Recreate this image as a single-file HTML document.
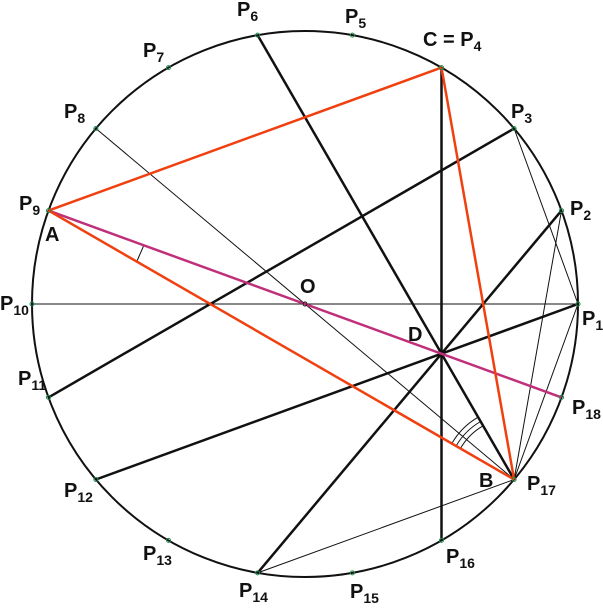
<!DOCTYPE html>
<html><head><meta charset="utf-8"><style>
html,body{margin:0;padding:0;background:#fff;}
svg{display:block;}
text{font-family:"Liberation Sans",Arial,sans-serif;fill:#111;font-weight:bold;}
</style></head><body>
<svg width="603" height="610" viewBox="0 0 603 610" xmlns="http://www.w3.org/2000/svg">
<circle cx="305" cy="304" r="273" fill="none" stroke="#111" stroke-width="2"/>
<g stroke="#111" stroke-width="1" fill="none">
<line x1="32" y1="304" x2="578" y2="304"/>
<line x1="95.9" y1="128.5" x2="514.1" y2="479.5"/>
<line x1="514.1" y1="128.5" x2="578" y2="304"/>
<line x1="561.5" y1="210.6" x2="514.1" y2="479.5"/>
<line x1="578" y1="304" x2="514.1" y2="479.5"/>
<line x1="257.6" y1="572.9" x2="514.1" y2="479.5"/>
<path d="M460.4,448.5 A62,62 0 0 1 483.1,425.8"/>
<path d="M456.1,446 A67,67 0 0 1 480.6,421.5"/>
<path d="M451.8,443.5 A72,72 0 0 1 478.1,417.2"/>
<line x1="137" y1="261" x2="144" y2="245"/>
</g>
<g stroke="#111" stroke-width="2.5">
<line x1="441.5" y1="67.6" x2="441.5" y2="540.4"/>
<line x1="257.6" y1="35.1" x2="514.1" y2="479.5"/>
<line x1="561.5" y1="210.6" x2="257.6" y2="572.9"/>
<line x1="578" y1="304" x2="95.9" y2="479.5"/>
<line x1="48.5" y1="397.4" x2="514.1" y2="128.5"/>
</g>
<line x1="48.5" y1="210.6" x2="561.5" y2="397.4" stroke="#c0307a" stroke-width="2.5"/>
<g stroke="#f04010" stroke-width="2.5">
<line x1="48.5" y1="210.6" x2="441.5" y2="67.6"/>
<line x1="441.5" y1="67.6" x2="514.1" y2="479.5"/>
<line x1="48.5" y1="210.6" x2="514.1" y2="479.5"/>
</g>
<g fill="none" stroke="#1a8a4a" stroke-width="1">
<circle cx="578" cy="304" r="2"/><circle cx="561.5" cy="210.6" r="2"/><circle cx="514.1" cy="128.5" r="2"/>
<circle cx="441.5" cy="67.6" r="2"/><circle cx="352.4" cy="35.1" r="2"/><circle cx="257.6" cy="35.1" r="2"/>
<circle cx="168.5" cy="67.6" r="2"/><circle cx="95.9" cy="128.5" r="2"/><circle cx="48.5" cy="210.6" r="2"/>
<circle cx="32" cy="304" r="2"/><circle cx="48.5" cy="397.4" r="2"/><circle cx="95.9" cy="479.5" r="2"/>
<circle cx="168.5" cy="540.4" r="2"/><circle cx="257.6" cy="572.9" r="2"/><circle cx="352.4" cy="572.9" r="2"/>
<circle cx="441.5" cy="540.4" r="2"/><circle cx="514.1" cy="479.5" r="2"/><circle cx="561.5" cy="397.4" r="2"/>
</g>
<circle cx="305" cy="304" r="2" fill="none" stroke="#111"/>
<g font-size="20">
<text x="582" y="325">P<tspan font-size="14" dy="5">1</tspan></text>
<text x="570" y="215">P<tspan font-size="14" dy="5">2</tspan></text>
<text x="511" y="118">P<tspan font-size="14" dy="5">3</tspan></text>
<text x="423" y="46">C = P<tspan font-size="14" dy="5">4</tspan></text>
<text x="345" y="23">P<tspan font-size="14" dy="5">5</tspan></text>
<text x="237" y="16">P<tspan font-size="14" dy="5">6</tspan></text>
<text x="143" y="57">P<tspan font-size="14" dy="5">7</tspan></text>
<text x="64" y="118">P<tspan font-size="14" dy="5">8</tspan></text>
<text x="19" y="210">P<tspan font-size="14" dy="5">9</tspan></text>
<text x="0" y="310">P<tspan font-size="14" dy="5">10</tspan></text>
<text x="18" y="385">P<tspan font-size="14" dy="5">11</tspan></text>
<text x="64" y="497">P<tspan font-size="14" dy="5">12</tspan></text>
<text x="143" y="560">P<tspan font-size="14" dy="5">13</tspan></text>
<text x="239" y="597">P<tspan font-size="14" dy="5">14</tspan></text>
<text x="350" y="598">P<tspan font-size="14" dy="5">15</tspan></text>
<text x="446" y="563">P<tspan font-size="14" dy="5">16</tspan></text>
<text x="527" y="490">P<tspan font-size="14" dy="5">17</tspan></text>
<text x="572" y="414">P<tspan font-size="14" dy="5">18</tspan></text>
<text x="45" y="241">A</text>
<text x="479" y="487">B</text>
<text x="408" y="341">D</text>
<text x="300" y="293">O</text>
</g>
</svg>
</body></html>
